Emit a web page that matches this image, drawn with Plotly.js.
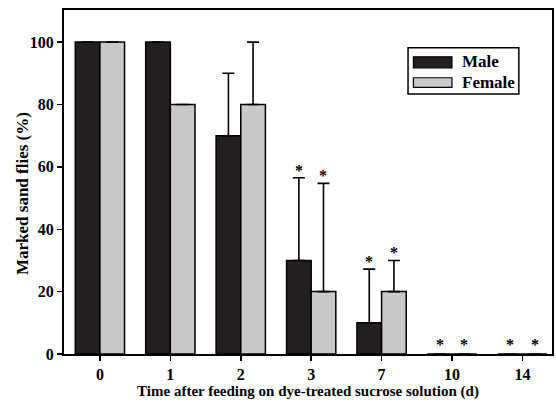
<!DOCTYPE html>
<html>
<head>
<meta charset="utf-8">
<script src="https://cdn.plot.ly/plotly-3.0.1.min.js"></script>
<style>html,body{margin:0;padding:0;background:#fff;}#chart{width:556px;height:402px;}</style>
</head>
<body>
<div id="chart"></div>
<script>
const categories = ["0", "1", "2", "3", "7", "10", "14"];
const seriesNames = ["Male", "Female"];
const seriesColors = ["#231f20", "#c8c9cb"];
const maleValues = [100, 100, 70, 30, 10, 0, 0];
const maleErrPlus = [0, 0, 20, 26.5, 17.2, 0, 0];
const femaleValues = [100, 80, 80, 20, 20, 0, 0];
const femaleErrPlus = [0, 0, 20, 34.7, 10, 0, 0];
const maleSignificant = [false, false, false, true, true, true, true];
const femaleSignificant = [false, false, false, true, true, true, true];
const yTitle = "Marked sand flies (%)";
const xTitle = "Time after feeding on dye-treated sucrose solution (d)";

const FONT = "Liberation Serif, Times New Roman, serif";

function barTrace(i, vals, errs) {
  return {
    type: "bar", name: seriesNames[i], x: categories, y: vals, showlegend: false,
    marker: {color: seriesColors[i], line: {color: "#000", width: 1.5}},
    error_y: {type: "data", symmetric: false, array: errs,
      arrayminus: vals.map(() => 0), color: "#000", thickness: 1.6, width: 6}
  };
}
const male = barTrace(0, maleValues, maleErrPlus);
const female = barTrace(1, femaleValues, femaleErrPlus);

const annotations = [];
categories.forEach((c, i) => {
  if (maleSignificant[i]) annotations.push({
    x: i - 0.175, y: maleValues[i] + maleErrPlus[i], xref: "x", yref: "y",
    text: "<b>*</b>", showarrow: false, yanchor: "bottom", yshift: maleErrPlus[i] ? -3 : -1,
    font: {family: FONT, size: 16, color: "#000"}
  });
  if (femaleSignificant[i]) annotations.push({
    x: i + 0.175, y: femaleValues[i] + femaleErrPlus[i], xref: "x", yref: "y",
    text: "<b>*</b>", showarrow: false, yanchor: "bottom", yshift: femaleErrPlus[i] ? -3 : -1,
    font: {family: FONT, size: 16, color: "#000"}
  });
});

// y-axis title (placed like the reference, slightly below centre)
annotations.push({xref: "paper", yref: "paper", x: -0.085, y: 0.4666, textangle: -90,
  xanchor: "center", yanchor: "middle", showarrow: false,
  text: "<b>" + yTitle + "</b>", font: {family: FONT, size: 17, color: "#000"}});

// legend (box with wide swatches, as in the reference)
const shapes = [
  {type: "rect", xref: "paper", yref: "paper", x0: 0.705, x1: 0.932, y0: 0.756, y1: 0.890,
   line: {color: "#000", width: 1.5}, fillcolor: "#fff"},
  {type: "rect", xref: "paper", yref: "paper", x0: 0.716, x1: 0.795, y0: 0.832, y1: 0.864,
   line: {color: "#000", width: 1.2}, fillcolor: seriesColors[0]},
  {type: "rect", xref: "paper", yref: "paper", x0: 0.716, x1: 0.795, y0: 0.775, y1: 0.803,
   line: {color: "#000", width: 1.2}, fillcolor: seriesColors[1]}
];
annotations.push(
  {xref: "paper", yref: "paper", x: 0.812, y: 0.850, xanchor: "left", yanchor: "middle",
   text: "<b>" + seriesNames[0] + "</b>", showarrow: false, font: {family: FONT, size: 17, color: "#000"}},
  {xref: "paper", yref: "paper", x: 0.812, y: 0.790, xanchor: "left", yanchor: "middle",
   text: "<b>" + seriesNames[1] + "</b>", showarrow: false, font: {family: FONT, size: 17, color: "#000"}}
);

const layout = {
  width: 556, height: 402,
  margin: {l: 64, r: 4, t: 10, b: 48},
  paper_bgcolor: "#fff", plot_bgcolor: "#fff",
  barmode: "group", bargap: 0.3, bargroupgap: 0,
  font: {family: FONT, color: "#000"},
  showlegend: false,
  xaxis: {
    type: "category", range: [-0.51, 6.42],
    showline: true, linecolor: "#000", linewidth: 2, mirror: true,
    ticks: "outside", ticklen: 5, tickwidth: 1.5, tickcolor: "#000",
    showgrid: false, zeroline: false,
    tickfont: {family: FONT, size: 16, color: "#000", weight: "bold"},
    title: {text: "<b>" + xTitle + "</b>",
      font: {family: FONT, size: 15, color: "#000"}, standoff: 3}
  },
  yaxis: {
    range: [0, 110.3], tickvals: [0, 20, 40, 60, 80, 100],
    showline: true, linecolor: "#000", linewidth: 2, mirror: true,
    ticks: "outside", ticklen: 5, tickwidth: 1.5, tickcolor: "#000",
    showgrid: false, zeroline: false,
    tickfont: {family: FONT, size: 16, color: "#000", weight: "bold"}
  },
  shapes: shapes,
  annotations: annotations
};

Plotly.newPlot("chart", [male, female], layout, {displayModeBar: false, staticPlot: true});
</script>
</body>
</html>
